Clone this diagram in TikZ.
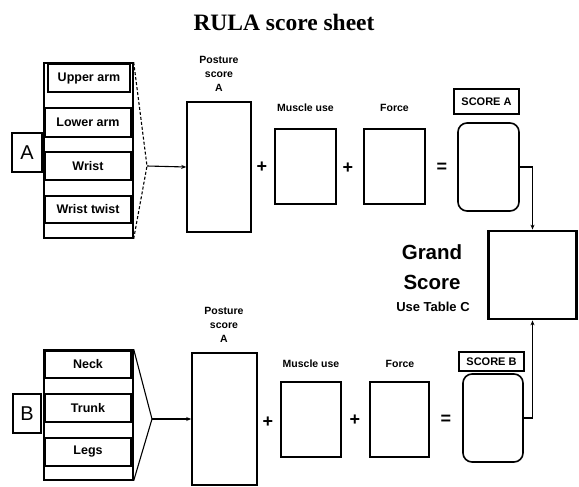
\documentclass[tikz,border=0pt]{standalone}
\usepackage{fontspec}
\setmainfont{Liberation Sans}
\newfontfamily\titlefont{Liberation Serif}
\usetikzlibrary{arrows.meta}
\begin{document}
\begin{tikzpicture}[x=1pt,y=-1pt,
  box/.style={draw, line width=1.6pt, inner sep=0pt},
  item/.style={draw, line width=1.8pt, inner sep=0pt, font=\fontsize{12.5}{15}\selectfont\bfseries},
  lbl/.style={align=center, font=\fontsize{10.5}{14}\selectfont\bfseries},
  op/.style={font=\fontsize{18}{18}\selectfont\bfseries, inner sep=0pt},
  tag/.style={draw, line width=1.5pt, inner sep=0pt, font=\fontsize{11}{12}\selectfont\bfseries},
  letter/.style={draw, line width=1.4pt, inner sep=0pt, font=\fontsize{20}{20}\selectfont},
  rbox/.style={draw, line width=1.6pt, rounded corners=9pt, inner sep=0pt},
  conv/.style={line width=1.1pt},
  link/.style={line width=1.1pt, -{Stealth[length=5pt,width=4pt]}}]
\useasboundingbox (0,0) rectangle (579,487);
\fill[white] (0,0) rectangle (579,487);

% title
\node[font=\titlefont\fontsize{23.5}{24}\selectfont\bfseries] (title) at (284,22) {RULA score sheet};

% ---------- section A ----------
\node[draw, line width=1.4pt, minimum width=89pt, minimum height=175pt, inner sep=0pt] (listA) at (88.5,150.5) {};
\node[item, line width=1.1pt, minimum width=82pt, minimum height=28pt] (upper) at (89,78) {Upper arm};
\node[item, minimum width=86pt, minimum height=29pt] (lower) at (88,122.5) {Lower arm};
\node[item, minimum width=86pt, minimum height=28pt] (wrist) at (88,166) {Wrist};
\node[item, minimum width=86pt, minimum height=27pt] (twist) at (88,209.5) {Wrist twist};
\node[letter, minimum width=30pt, minimum height=39pt] (A) at (27,152.5) {A};
\coordinate (tipA) at (147,166);
\draw[conv, densely dashed] (listA.north east) -- (tipA);
\draw[conv, densely dashed] (listA.south east) -- (tipA);

\node[box, minimum width=64pt, minimum height=130pt] (pA) at (219,167) {};
\node[lbl] (pAl) at (219,74) {Posture\\score\\A};
\draw[link] (tipA) -- (pA.west);
\node[op] (plA1) at (262,167) {+};
\node[box, minimum width=61pt, minimum height=75pt] (mA) at (305.5,166.5) {};
\node[lbl] (mAl) at (305.5,108) {Muscle use};
\node[op] (plA2) at (348,168) {+};
\node[box, minimum width=61pt, minimum height=75pt] (fA) at (394.5,166.5) {};
\node[lbl] (fAl) at (394.5,108) {Force};
\node[op] (eqA) at (442,168) {=};
\node[tag, minimum width=65pt, minimum height=25pt] (sA) at (486.5,101.5) {SCORE A};
\node[rbox, minimum width=61pt, minimum height=88pt] (rA) at (488.5,167) {};

% ---------- grand score ----------
\node[draw, line width=2.8pt, minimum width=88pt, minimum height=88pt, inner sep=0pt] (grand) at (532.5,275) {};
\node[font=\fontsize{20.5}{21}\selectfont\bfseries, inner sep=0pt] (g1) at (432,252) {Grand};
\node[font=\fontsize{20.5}{21}\selectfont\bfseries, inner sep=0pt] (g2) at (432,282) {Score};
\node[font=\fontsize{13}{14}\selectfont\bfseries, inner sep=0pt] (g3) at (433,307) {Use Table C};

\draw[link] (rA.east) -| (grand.north);

% ---------- section B ----------
\node[draw, line width=1.4pt, minimum width=89pt, minimum height=130pt, inner sep=0pt] (listB) at (88.5,415) {};
\node[item, minimum width=86pt, minimum height=27pt] (neck) at (88,364.5) {Neck};
\node[item, minimum width=86pt, minimum height=28pt] (trunk) at (88,408) {Trunk};
\node[item, minimum width=86pt, minimum height=28pt] (legs) at (88,452) {Legs};
\node[letter, minimum width=28pt, minimum height=39pt] (B) at (27,413.5) {B};
\coordinate (tipB) at (152,419);
\draw[conv] (listB.north east) -- (tipB);
\draw[conv] (listB.south east) -- (tipB);

\node[box, minimum width=65pt, minimum height=132pt] (pB) at (224.5,419) {};
\node[lbl] (pBl) at (224,325) {Posture\\score\\A};
\draw[link] (tipB) -- (pB.west);
\node[op] (plB1) at (268,422) {+};
\node[box, minimum width=60pt, minimum height=75pt] (mB) at (311,419.5) {};
\node[lbl] (mBl) at (311,364) {Muscle use};
\node[op] (plB2) at (355,420) {+};
\node[box, minimum width=59pt, minimum height=75pt] (fB) at (399.5,419.5) {};
\node[lbl] (fBl) at (400,364) {Force};
\node[op] (eqB) at (446,420) {=};
\node[tag, minimum width=65pt, minimum height=19pt] (sB) at (491.5,361.5) {SCORE B};
\node[rbox, minimum width=60pt, minimum height=88pt] (rB) at (493,418) {};

\draw[link] (rB.east) -| (grand.south);
\end{tikzpicture}
\end{document}
